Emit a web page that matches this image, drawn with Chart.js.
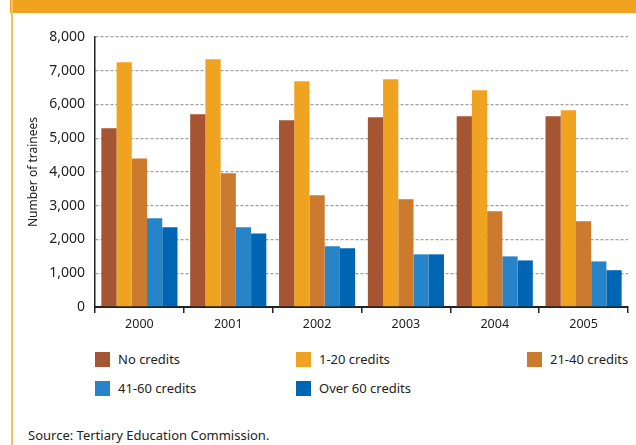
<!DOCTYPE html>
<html>
<head>
<meta charset="utf-8">
<script src="https://cdn.jsdelivr.net/npm/chart.js@4/dist/chart.umd.min.js"></script>
<style>
  html, body { margin: 0; padding: 0; background: #fff; }
  body { width: 636px; height: 445px; position: relative; overflow: hidden; font-family: "Noto Sans", sans-serif; color: #222; }
  #header { position: absolute; left: 10px; top: 0; width: 626px; height: 13px; background: #f0a221; }
  #leftline { position: absolute; left: 11px; top: 0; width: 2px; height: 445px; background: #f5c163; }
  #wrap { position: absolute; left: 0; top: 0; width: 636px; height: 340px; }
  .lg { position: absolute; font-size: 13px; line-height: 15px; white-space: nowrap; }
  .lg span { display: inline-block; width: 15px; height: 15px; vertical-align: top; margin-right: 8px; }
  #source { position: absolute; left: 28px; top: 426px; font-size: 13px; }
</style>
</head>
<body>
<div id="header"></div>
<div id="leftline"></div>
<div id="wrap"><canvas id="chart"></canvas></div>
<div id="legend"></div>
<div id="source">Source: Tertiary Education Commission.</div>
<script>
const years = ['2000', '2001', '2002', '2003', '2004', '2005'];
const seriesLabels = ['No credits', '1-20 credits', '21-40 credits', '41-60 credits', 'Over 60 credits'];
const seriesColors = ['#a65532', '#f0a221', '#cc7a2d', '#2784c8', '#0066b3'];

const noCredits = [5300, 5710, 5530, 5620, 5650, 5650];
const credits1to20 = [7250, 7340, 6690, 6750, 6420, 5830];
const credits21to40 = [4400, 3960, 3310, 3190, 2840, 2540];
const credits41to60 = [2630, 2360, 1800, 1560, 1500, 1350];
const over60 = [2360, 2180, 1740, 1560, 1380, 1090];

const yTicks = [0, 1000, 2000, 3000, 4000, 5000, 6000, 7000, 8000];

const seriesData = [noCredits, credits1to20, credits21to40, credits41to60, over60];

const chart = new Chart(document.getElementById('chart').getContext('2d'), {
    type: 'bar',
    data: {
        labels: years,
        datasets: seriesData.map((d, i) => ({
            label: seriesLabels[i],
            data: d,
            backgroundColor: seriesColors[i],
            borderWidth: 0,
            barPercentage: 1,
            categoryPercentage: 0.857
        }))
    },
    options: {
        responsive: true,
        maintainAspectRatio: false,
        animation: false,
        layout: { padding: { top: 37, right: 8, left: 0, bottom: 0 } },
        plugins: {
            legend: { display: false },
            tooltip: { enabled: false }
        },
        scales: {
            x: {
                afterFit: (axis) => { axis.height = 33; },
                grid: {
                    offset: true,
                    drawOnChartArea: false,
                    drawTicks: true,
                    tickLength: 6,
                    color: '#222',
                    lineWidth: 1.5
                },
                border: { color: '#222', width: 2 },
                ticks: {
                    color: '#222',
                    padding: 4,
                    font: { family: 'Noto Sans', size: 12.5 }
                }
            },
            y: {
                min: 0,
                max: 8000,
                afterFit: (axis) => { axis.width = 95; },
                afterBuildTicks: (axis) => { axis.ticks = yTicks.map(v => ({ value: v })); },
                grid: {
                    drawTicks: false,
                    color: '#a0a0a0',
                    lineWidth: 1.3
                },
                border: { color: '#222', width: 1.5, dash: [3, 2] },
                ticks: {
                    color: '#222',
                    padding: 10,
                    font: { family: 'Noto Sans', size: 14 },
                    callback: (v) => v.toLocaleString('en-US')
                },
                title: {
                    display: true,
                    text: 'Number of trainees',
                    color: '#222',
                    padding: { top: 26, bottom: 0 },
                    font: { family: 'Noto Sans', size: 12 }
                }
            }
        }
    }
});

// legend laid out in three columns like the original
const legendCols = [95, 296, 527];
const legendRows = [352, 381];
const legend = document.getElementById('legend');
seriesLabels.forEach((label, i) => {
    const el = document.createElement('div');
    el.className = 'lg';
    el.style.left = legendCols[i % 3] + 'px';
    el.style.top = legendRows[Math.floor(i / 3)] + 'px';
    el.innerHTML = `<span style="background:${seriesColors[i]}"></span>${label}`;
    legend.appendChild(el);
});
</script>
</body>
</html>
